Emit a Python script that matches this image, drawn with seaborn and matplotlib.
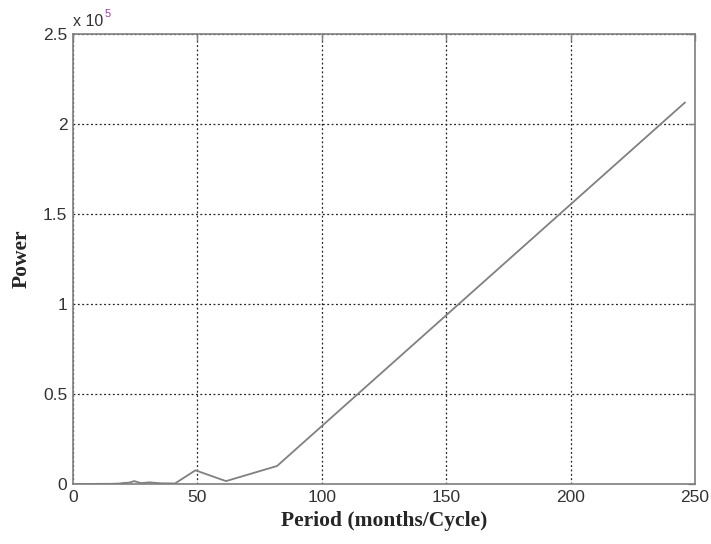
import numpy as np
import pandas as pd
import matplotlib
matplotlib.use("Agg")
import matplotlib.pyplot as plt
import seaborn as sns
from matplotlib.ticker import FuncFormatter

# periods (months/cycle) = 246 / k, and the power
period = [246.0, 123.0, 82.0, 61.5, 49.2, 41.0, 35.1, 30.75, 27.3, 24.6, 22.4,
          20.5, 18.9, 17.6, 16.4, 15.4, 12.3, 9.8, 8.2, 6.5, 4.9, 3.5, 2.0, 1.0]
power = [2.12e5, 6.05e4, 1.0e4, 1.6e3, 7.6e3, 300, 400, 900, 500, 1600, 700,
         600, 300, 200, 150, 120, 100, 80, 60, 50, 40, 30, 20, 10]

df = pd.DataFrame({"Period": period, "Power": power}).sort_values("Period")

sns.set_theme(style="white")
plt.rcParams["font.family"] = ["Liberation Sans", "DejaVu Sans"]

fig = plt.figure(figsize=(7.11, 5.44), dpi=100)
ax = fig.add_axes([0.1027, 0.1103, 0.8748, 0.8272])

sns.lineplot(data=df, x="Period", y="Power", color="#808080", linewidth=1.3,
             sort=False, ax=ax)

ax.set_xlim(0, 250)
ax.set_ylim(0, 2.5e5)
ax.set_xticks([0, 50, 100, 150, 200, 250])
ax.set_yticks([0, 0.5e5, 1e5, 1.5e5, 2e5, 2.5e5])
ax.yaxis.set_major_formatter(FuncFormatter(lambda v, p: "%g" % (v / 1e5)))

ax.grid(True, linestyle=(0, (1.5, 2)), color="#222222", linewidth=0.9)
for s in ax.spines.values():
    s.set_color("#7f7f7f")
    s.set_linewidth(1.2)
ax.tick_params(direction="in", length=5, width=1, color="#7f7f7f",
               labelsize=12.5, labelcolor="#333333", top=True, right=True,
               pad=4)

ax.set_xlabel("Period (months/Cycle)", fontsize=15.5, fontweight="bold",
              family="Liberation Serif")
ax.set_ylabel("Power", fontsize=15.5, fontweight="bold",
              family="Liberation Serif")
ax.xaxis.set_label_coords(0.5, -0.082)
ax.yaxis.set_label_coords(-0.082, 0.5)
ax.xaxis.label.set_va("center")
ax.yaxis.label.set_va("center")

# MATLAB style exponent label
ax.text(0.0, 1.012, "x 10", transform=ax.transAxes, fontsize=11.5,
        color="#333333", va="bottom", ha="left")
ax.text(0.051, 1.034, "5", transform=ax.transAxes, fontsize=8,
        color="#a040a0", va="bottom", ha="left")

fig.savefig("out.png", dpi=100)
